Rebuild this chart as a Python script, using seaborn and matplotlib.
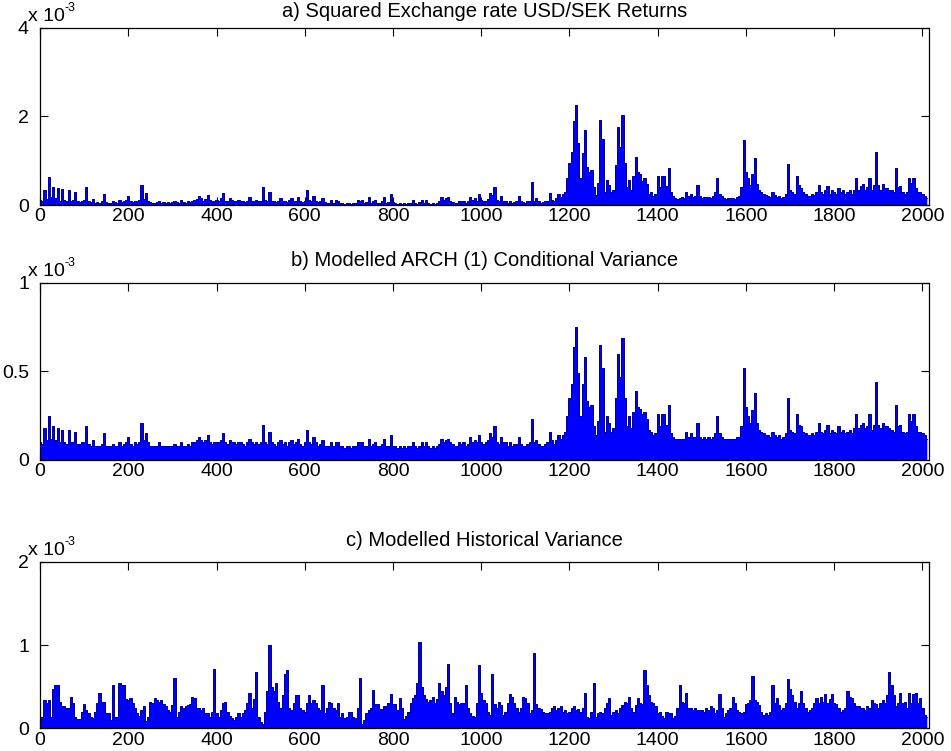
import numpy as np
import pandas as pd
import matplotlib
matplotlib.use("Agg")
import matplotlib.pyplot as plt
import seaborn as sns

# Sampling interval (observations) between consecutive stored values
STEP = 5

# Squared USD/SEK returns, units of 1e-5
sq_returns = [
    12, 8, 33, 14, 63, 18, 40, 15, 38, 10, 36, 12, 8, 33, 10, 12, 30, 8, 6, 10,
    12, 40, 8, 6, 14, 5, 6, 4, 8, 26, 6, 5, 4, 8, 6, 5, 11, 6, 8, 12,
    20, 8, 6, 10, 8, 12, 45, 14, 28, 10, 6, 5, 4, 6, 10, 5, 6, 4, 6, 5,
    6, 8, 6, 5, 12, 6, 5, 8, 6, 10, 12, 14, 20, 15, 10, 14, 22, 12, 8, 10,
    12, 10, 15, 28, 10, 8, 15, 12, 10, 8, 12, 10, 8, 6, 10, 18, 10, 8, 12, 8,
    10, 41, 12, 8, 30, 10, 8, 6, 10, 15, 8, 10, 6, 12, 15, 8, 10, 17, 8, 6,
    10, 35, 12, 8, 20, 10, 6, 8, 15, 6, 5, 4, 12, 5, 11, 10, 4, 5, 3, 4,
    4, 3, 5, 4, 11, 10, 11, 4, 6, 17, 5, 8, 12, 5, 4, 8, 17, 5, 6, 24,
    6, 4, 3, 4, 3, 4, 3, 4, 5, 11, 4, 3, 6, 11, 5, 11, 4, 3, 4, 3,
    5, 8, 17, 12, 15, 17, 10, 6, 4, 5, 10, 8, 10, 5, 8, 19, 12, 15, 10, 24,
    12, 8, 10, 14, 28, 22, 40, 12, 8, 21, 10, 9, 5, 9, 4, 6, 8, 21, 8, 6,
    5, 8, 10, 52, 10, 15, 8, 5, 6, 8, 10, 28, 12, 8, 15, 24, 18, 24, 30, 60,
    94, 120, 190, 226, 140, 60, 118, 170, 85, 75, 80, 40, 22, 50, 193, 150, 30, 57, 45, 30,
    35, 90, 175, 132, 203, 94, 40, 57, 35, 65, 108, 75, 70, 55, 60, 48, 25, 30, 20, 25,
    66, 40, 66, 66, 43, 84, 30, 20, 16, 14, 16, 18, 16, 30, 20, 25, 18, 20, 45, 20,
    16, 19, 18, 19, 16, 20, 30, 62, 25, 20, 16, 14, 16, 15, 16, 14, 18, 20, 40, 147,
    75, 60, 45, 70, 107, 48, 34, 30, 25, 22, 20, 18, 30, 22, 18, 20, 16, 18, 25, 93,
    35, 30, 25, 66, 45, 39, 30, 25, 20, 20, 25, 22, 30, 45, 30, 25, 34, 43, 25, 34,
    30, 25, 39, 30, 34, 25, 30, 34, 25, 35, 62, 35, 43, 48, 35, 40, 62, 34, 45, 120,
    45, 35, 48, 38, 39, 35, 34, 30, 84, 40, 43, 30, 25, 30, 62, 50, 62, 39, 30, 30,
    25, 20, 16,
]

# ARCH(1) conditional variance, units of 1e-5
arch_var = [
    10, 9, 18, 11, 25, 12, 19, 11, 18, 10, 17, 10, 9, 17, 10, 10, 16, 9, 9, 10,
    10, 19, 9, 8, 11, 8, 8, 8, 9, 15, 8, 8, 8, 9, 8, 8, 10, 8, 9, 10,
    13, 9, 8, 10, 9, 10, 21, 11, 15, 10, 8, 8, 8, 8, 10, 8, 8, 8, 8, 8,
    8, 9, 8, 8, 10, 8, 8, 9, 8, 10, 10, 11, 13, 11, 10, 11, 14, 10, 9, 10,
    10, 10, 11, 15, 10, 9, 11, 10, 10, 9, 10, 10, 9, 8, 10, 12, 10, 9, 10, 9,
    10, 20, 10, 9, 16, 10, 9, 8, 10, 11, 9, 10, 8, 10, 11, 9, 10, 12, 9, 8,
    10, 17, 10, 9, 13, 10, 8, 9, 11, 8, 8, 8, 10, 8, 10, 10, 8, 8, 7, 8,
    8, 7, 8, 8, 10, 10, 10, 8, 8, 12, 8, 9, 10, 8, 8, 9, 12, 8, 8, 14,
    8, 8, 7, 8, 7, 8, 7, 8, 8, 10, 8, 7, 8, 10, 8, 10, 8, 7, 8, 7,
    8, 9, 12, 10, 11, 12, 10, 9, 8, 8, 10, 9, 10, 8, 9, 13, 10, 11, 10, 14,
    10, 9, 10, 11, 15, 13, 19, 10, 9, 13, 10, 10, 8, 10, 8, 9, 9, 13, 9, 8,
    8, 9, 10, 23, 10, 11, 9, 8, 8, 9, 10, 16, 11, 9, 11, 14, 12, 14, 16, 25,
    35, 43, 64, 75, 49, 25, 43, 58, 33, 30, 31, 19, 14, 22, 65, 52, 16, 25, 21, 16,
    18, 35, 60, 47, 69, 35, 19, 25, 18, 27, 39, 30, 29, 26, 27, 23, 17, 16, 14, 15,
    26, 19, 26, 26, 20, 31, 15, 13, 12, 12, 12, 12, 12, 16, 13, 15, 13, 13, 21, 13,
    12, 13, 12, 13, 12, 13, 15, 25, 15, 13, 12, 12, 12, 12, 12, 12, 13, 13, 19, 52,
    30, 25, 21, 28, 38, 21, 17, 16, 15, 14, 14, 13, 16, 14, 13, 14, 12, 13, 15, 35,
    17, 16, 15, 26, 20, 19, 16, 15, 14, 14, 15, 14, 16, 21, 16, 15, 17, 20, 15, 17,
    16, 15, 19, 16, 17, 15, 16, 17, 15, 18, 26, 18, 20, 21, 18, 19, 26, 17, 20, 44,
    20, 18, 21, 19, 19, 18, 17, 16, 31, 19, 20, 16, 15, 16, 26, 22, 26, 19, 16, 16,
    15, 14, 12,
]

# Historical (rolling) variance, units of 1e-5
hist_var = [
    8, 14, 34, 30, 34, 14, 47, 52, 52, 32, 27, 27, 25, 25, 38, 30, 14, 11, 11, 20,
    29, 22, 18, 14, 12, 20, 30, 43, 32, 32, 18, 18, 10, 52, 14, 14, 54, 52, 52, 35,
    34, 36, 30, 25, 18, 15, 22, 27, 9, 14, 32, 30, 36, 34, 32, 34, 29, 27, 22, 20,
    28, 60, 14, 20, 27, 25, 27, 28, 29, 38, 36, 25, 25, 22, 25, 18, 18, 14, 20, 71,
    18, 14, 22, 30, 32, 20, 15, 12, 10, 14, 18, 14, 18, 22, 30, 43, 25, 35, 68, 14,
    8, 5, 20, 45, 100, 50, 45, 54, 32, 25, 40, 65, 70, 25, 22, 30, 40, 40, 25, 22,
    20, 30, 40, 30, 34, 30, 25, 22, 52, 18, 25, 32, 30, 25, 22, 30, 14, 18, 12, 14,
    20, 20, 14, 12, 25, 60, 5, 10, 18, 22, 25, 46, 29, 29, 23, 23, 27, 27, 30, 41,
    29, 29, 22, 36, 25, 11, 15, 20, 30, 36, 40, 54, 104, 50, 40, 35, 32, 34, 38, 30,
    35, 54, 45, 40, 50, 77, 30, 18, 38, 32, 29, 30, 30, 52, 25, 18, 15, 14, 30, 76,
    43, 34, 30, 20, 16, 65, 29, 25, 32, 28, 16, 20, 30, 41, 38, 30, 25, 20, 25, 38,
    36, 30, 18, 22, 90, 29, 25, 23, 20, 18, 18, 20, 25, 27, 22, 25, 27, 20, 22, 18,
    20, 25, 27, 22, 23, 20, 25, 43, 14, 12, 20, 54, 14, 18, 20, 18, 25, 30, 36, 16,
    20, 22, 18, 25, 28, 32, 30, 38, 25, 20, 28, 36, 30, 29, 70, 52, 40, 32, 30, 27,
    18, 20, 15, 13, 20, 18, 18, 13, 15, 25, 52, 32, 30, 43, 25, 25, 22, 25, 22, 22,
    22, 20, 25, 22, 27, 25, 18, 22, 41, 25, 14, 18, 22, 25, 38, 30, 22, 20, 18, 20,
    29, 30, 34, 63, 34, 32, 28, 20, 16, 18, 16, 20, 52, 30, 36, 28, 22, 25, 30, 59,
    47, 40, 32, 25, 30, 45, 30, 25, 20, 22, 25, 30, 36, 30, 38, 32, 41, 30, 35, 41,
    30, 29, 25, 20, 22, 25, 45, 38, 36, 30, 27, 27, 25, 25, 22, 27, 25, 34, 30, 29,
    25, 30, 34, 30, 40, 68, 52, 40, 27, 30, 43, 30, 32, 25, 43, 30, 41, 43, 30, 36,
    25, 16, 14,
]

titles = [
    "a) Squared Exchange rate USD/SEK Returns",
    "b) Modelled ARCH (1) Conditional Variance",
    "c) Modelled Historical Variance",
]
x_ticks = [0, 200, 400, 600, 800, 1000, 1200, 1400, 1600, 1800, 2000]
y_ticks = [[0, 2, 4], [0, 0.5, 1], [0, 1, 2]]
y_ticklabels = [["0", "2", "4"], ["0", "0.5", "1"], ["0", "1", "2"]]
exponent = "-3"

sns.set_style("white", {"axes.edgecolor": "black", "text.color": "black",
                        "xtick.color": "black", "ytick.color": "black"})
plt.rcParams["font.family"] = ["Liberation Sans", "DejaVu Sans"]

fig = plt.figure(figsize=(9.51, 7.51), dpi=100)
left, width = 0.0421, 0.9348
# [bottom, height] of each panel, figure fraction
boxes = [(0.727, 0.236), (0.3875, 0.236), (0.030, 0.222)]
title_pads = [8, 12, 11]
FS = 14
FS_TITLE = 14.5

for i, series in enumerate([sq_returns, arch_var, hist_var]):
    vals = np.asarray(series, dtype=float) / 100.0   # in units of 1e-3
    df = pd.DataFrame({"obs": np.arange(len(vals)) * STEP, "val": vals})
    ax = fig.add_axes([left, boxes[i][0], width, boxes[i][1]])
    ax.fill_between(df["obs"], df["val"], step="mid", color="#0000ff", lw=0)
    sns.lineplot(data=df, x="obs", y="val", ax=ax, drawstyle="steps-mid",
                 color="#000080", lw=0.7, errorbar=None)
    ax.set_xlim(0, 2015)
    ax.set_ylim(0, y_ticks[i][-1])
    ax.set_xticks(x_ticks)
    ax.set_xticklabels([str(t) for t in x_ticks])
    ax.set_yticks(y_ticks[i])
    ax.set_yticklabels(y_ticklabels[i])
    ax.set_xlabel("")
    ax.set_ylabel("")
    ax.tick_params(direction="in", length=6, width=0.8, labelsize=FS,
                   bottom=True, left=True, top=True, right=True)
    ax.tick_params(axis="x", pad=2.5)
    ax.tick_params(axis="y", pad=8)
    for s in ax.spines.values():
        s.set_visible(True)
        s.set_color("black")
        s.set_linewidth(0.9)
    ax.set_title(titles[i], fontsize=FS_TITLE, pad=title_pads[i])
    ax.annotate("x 10", xy=(0, 1), xycoords="axes fraction", xytext=(-9, 8),
                textcoords="offset points", ha="left", va="center", fontsize=FS)
    ax.annotate(exponent, xy=(0, 1), xycoords="axes fraction", xytext=(17.5, 14),
                textcoords="offset points", ha="left", va="center", fontsize=9)

fig.savefig("out.png", dpi=100, facecolor="white")
